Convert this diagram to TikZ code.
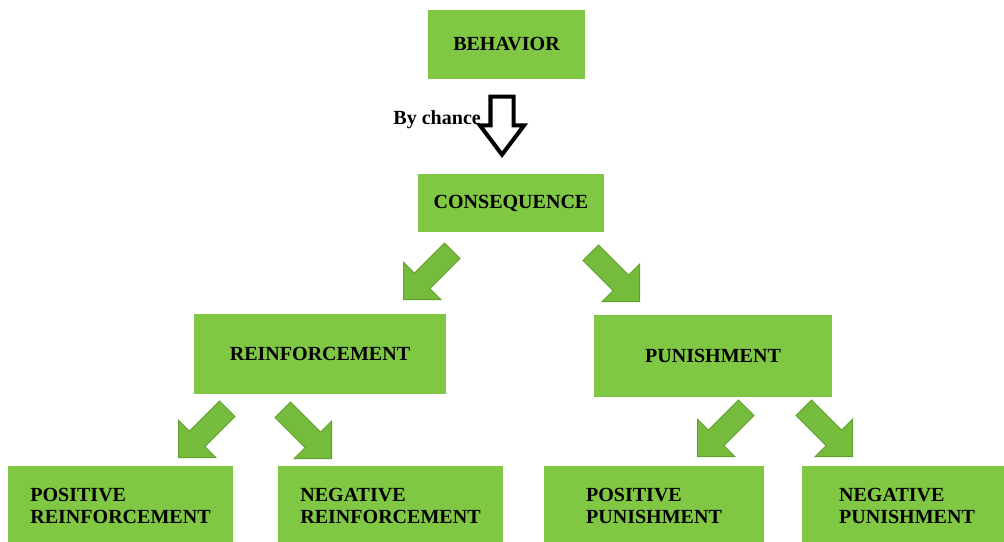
\documentclass[tikz,border=0pt]{standalone}
\usepackage{fontspec}
\setmainfont{Liberation Serif}
\usetikzlibrary{shapes.arrows}

\definecolor{boxgreen}{RGB}{128,200,68}
\definecolor{arrowgreen}{RGB}{118,188,60}
\definecolor{edgegreen}{RGB}{96,160,44}

\begin{document}
\begin{tikzpicture}[ % pixel grid, y downwards
x=0.02cm, y=-0.02cm,
font=\fontsize{11.4}{12.6}\selectfont\bfseries,
green_box/.style={rectangle, fill=boxgreen, inner sep=0pt},
low_box/.style={green_box, minimum height=1.6cm, align=left},
block_arrow/.style={single arrow, fill=arrowgreen, draw=edgegreen, line width=0.5pt, inner xsep=0pt, inner ysep=0.21cm,
  anchor=tip, single arrow head extend=0.31cm, single arrow tip angle=90, minimum height=1.38cm},
hollow_arrow/.style={single arrow, fill=white, draw=black, line width=2.3pt, inner xsep=0pt, inner ysep=0.19cm,
  anchor=tip, single arrow head extend=0.21cm, single arrow tip angle=74, minimum height=1.16cm}
]

\clip (0,0) rectangle (1004,541);
\fill[white] (0,0) rectangle (1004,541);

\node[green_box, minimum width=3.14cm, minimum height=1.38cm](behavior) at (506.5,44.5) {BEHAVIOR};
\node[green_box, minimum width=3.72cm, minimum height=1.16cm](consequence) at (511,203) {CONSEQUENCE};

\node[green_box, minimum width=5.04cm, minimum height=1.6cm](reinforcement) at (320,354) {REINFORCEMENT};
\node[green_box, minimum width=4.76cm, minimum height=1.64cm](punishment) at (713,356) {PUNISHMENT};

\node[low_box, minimum width=4.5cm](pos_reinf) at (120.5,506) {POSITIVE\\REINFORCEMENT};
\node[low_box, minimum width=4.5cm](neg_reinf) at (390.5,506) {NEGATIVE\\REINFORCEMENT};
\node[low_box, minimum width=4.4cm](pos_punish) at (654,506) {POSITIVE\\PUNISHMENT};
\node[low_box, minimum width=4.2cm](neg_punish) at (907,506) {NEGATIVE\\PUNISHMENT};

% by chance
\node[hollow_arrow, rotate=270](chance_arrow) at (502,158) {};
\node[anchor=east](chance) at (487,120) {By chance};

% green arrows
\node[block_arrow, rotate=225](cons_reinf) at (403,300) {};
\node[block_arrow, rotate=315](cons_punish) at (640,302) {};
\node[block_arrow, rotate=225](reinf_pos) at (178,458) {};
\node[block_arrow, rotate=315](reinf_neg) at (332,459) {};
\node[block_arrow, rotate=225](punish_pos) at (697,457) {};
\node[block_arrow, rotate=315](punish_neg) at (853,457) {};
\end{tikzpicture}
\end{document}
